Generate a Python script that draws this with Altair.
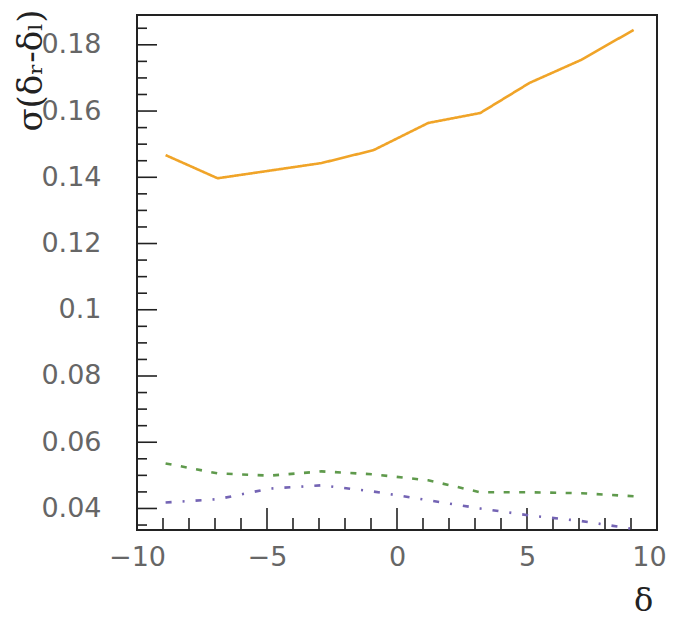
import altair as alt
import pandas as pd

# data
delta = [-8.9, -6.9, -4.9, -2.9, -0.9, 1.2, 3.2, 5.1, 7.1, 9.1]
solid_vals = [0.1467, 0.1397, 0.1420, 0.1443, 0.1482, 0.1564, 0.1594, 0.1685, 0.1755, 0.1845]
dashed_vals = [0.0536, 0.0506, 0.0499, 0.0512, 0.0503, 0.0485, 0.0449, 0.0449, 0.0446, 0.0437]
dashdot_vals = [0.0418, 0.0428, 0.0460, 0.0470, 0.0451, 0.0425, 0.0400, 0.0379, 0.0362, 0.0338]
series_names = ["solid", "dashed", "dashdot"]

x_major = [-10, -5, 0, 5, 10]
x_minor = [-9, -8, -7, -6, -4, -3, -2, -1, 1, 2, 3, 4, 6, 7, 8, 9]
y_major = [0.04, 0.06, 0.08, 0.10, 0.12, 0.14, 0.16, 0.18]
y_minor = [0.035, 0.045, 0.05, 0.055, 0.065, 0.07, 0.075, 0.085, 0.09, 0.095,
           0.105, 0.11, 0.115, 0.125, 0.13, 0.135, 0.145, 0.15, 0.155, 0.165,
           0.17, 0.175, 0.185]

rows = []
for name, vals in zip(series_names, [solid_vals, dashed_vals, dashdot_vals]):
    for d, v in zip(delta, vals):
        rows.append({"delta": d, "sigma": v, "series": name})
df = pd.DataFrame(rows)

W, H = 520, 515
xscale = alt.Scale(domain=[-10, 10], nice=False, zero=False)
yscale = alt.Scale(domain=[0.0335, 0.189], nice=False, zero=False)

lines = alt.Chart(df).mark_line(strokeWidth=2.6).encode(
    x=alt.X("delta:Q", scale=xscale,
            axis=alt.Axis(values=x_major, ticks=False, domain=False, grid=False,
                          labelFlush=False, labelOverlap=False,
                          labelOffset={"condition": {"test": "datum.value == 10", "value": -8}, "value": 0},
                          labelFont="DejaVu Sans", labelFontSize=27, labelColor="#666666",
                          labelPadding=14, title="δ", titleFont="DejaVu Serif",
                          titleFontSize=32, titleFontWeight="normal", titleColor="#222222",
                          titleX=506, titleY=70, titleBaseline="middle", titleAlign="center")),
    y=alt.Y("sigma:Q", scale=yscale,
            axis=alt.Axis(values=y_major, ticks=False, domain=False, grid=False, format="~g",
                          labelFlush=False, labelOverlap=False,
                          labelFont="DejaVu Sans", labelFontSize=27, labelColor="#666666",
                          labelPadding=36, title="σ(δᵣ-δₗ)", titleFont="DejaVu Serif",
                          titleFontSize=34, titleFontWeight="normal", titleColor="#222222",
                          titleX=-106, titleY=55, titleAngle=270,
                          titleBaseline="middle", titleAlign="center")),
    color=alt.Color("series:N", scale=alt.Scale(domain=series_names,
                                                range=["#f0a428", "#5f9a4c", "#7464b4"]),
                    legend=None),
    strokeDash=alt.StrokeDash("series:N", scale=alt.Scale(domain=series_names,
                                                          range=[[1, 0], [6, 9.5], [6, 11, 2, 11]]),
                              legend=None),
)

xmaj = alt.Chart(pd.DataFrame({"t": x_major})).mark_rule(color="#222222", strokeWidth=1.6).encode(
    x=alt.X("t:Q", scale=xscale), y=alt.value(H), y2=alt.value(H - 22))
xmin = alt.Chart(pd.DataFrame({"t": x_minor})).mark_rule(color="#222222", strokeWidth=1.6).encode(
    x=alt.X("t:Q", scale=xscale), y=alt.value(H), y2=alt.value(H - 12))
ymaj = alt.Chart(pd.DataFrame({"t": y_major})).mark_rule(color="#222222", strokeWidth=1.6).encode(
    y=alt.Y("t:Q", scale=yscale), x=alt.value(0), x2=alt.value(20))
ymin = alt.Chart(pd.DataFrame({"t": y_minor})).mark_rule(color="#222222", strokeWidth=1.6).encode(
    y=alt.Y("t:Q", scale=yscale), x=alt.value(0), x2=alt.value(10))

chart = alt.layer(xmaj, xmin, ymaj, ymin, lines).properties(
    width=W, height=H,
    background="white",
    autosize=alt.AutoSizeParams(type="none"),
    padding={"left": 129, "top": 7, "right": 11, "bottom": 88},
).configure_view(stroke="#222222", strokeWidth=2)

chart.save("out.html", embed_options={"renderer": "svg", "actions": False})
